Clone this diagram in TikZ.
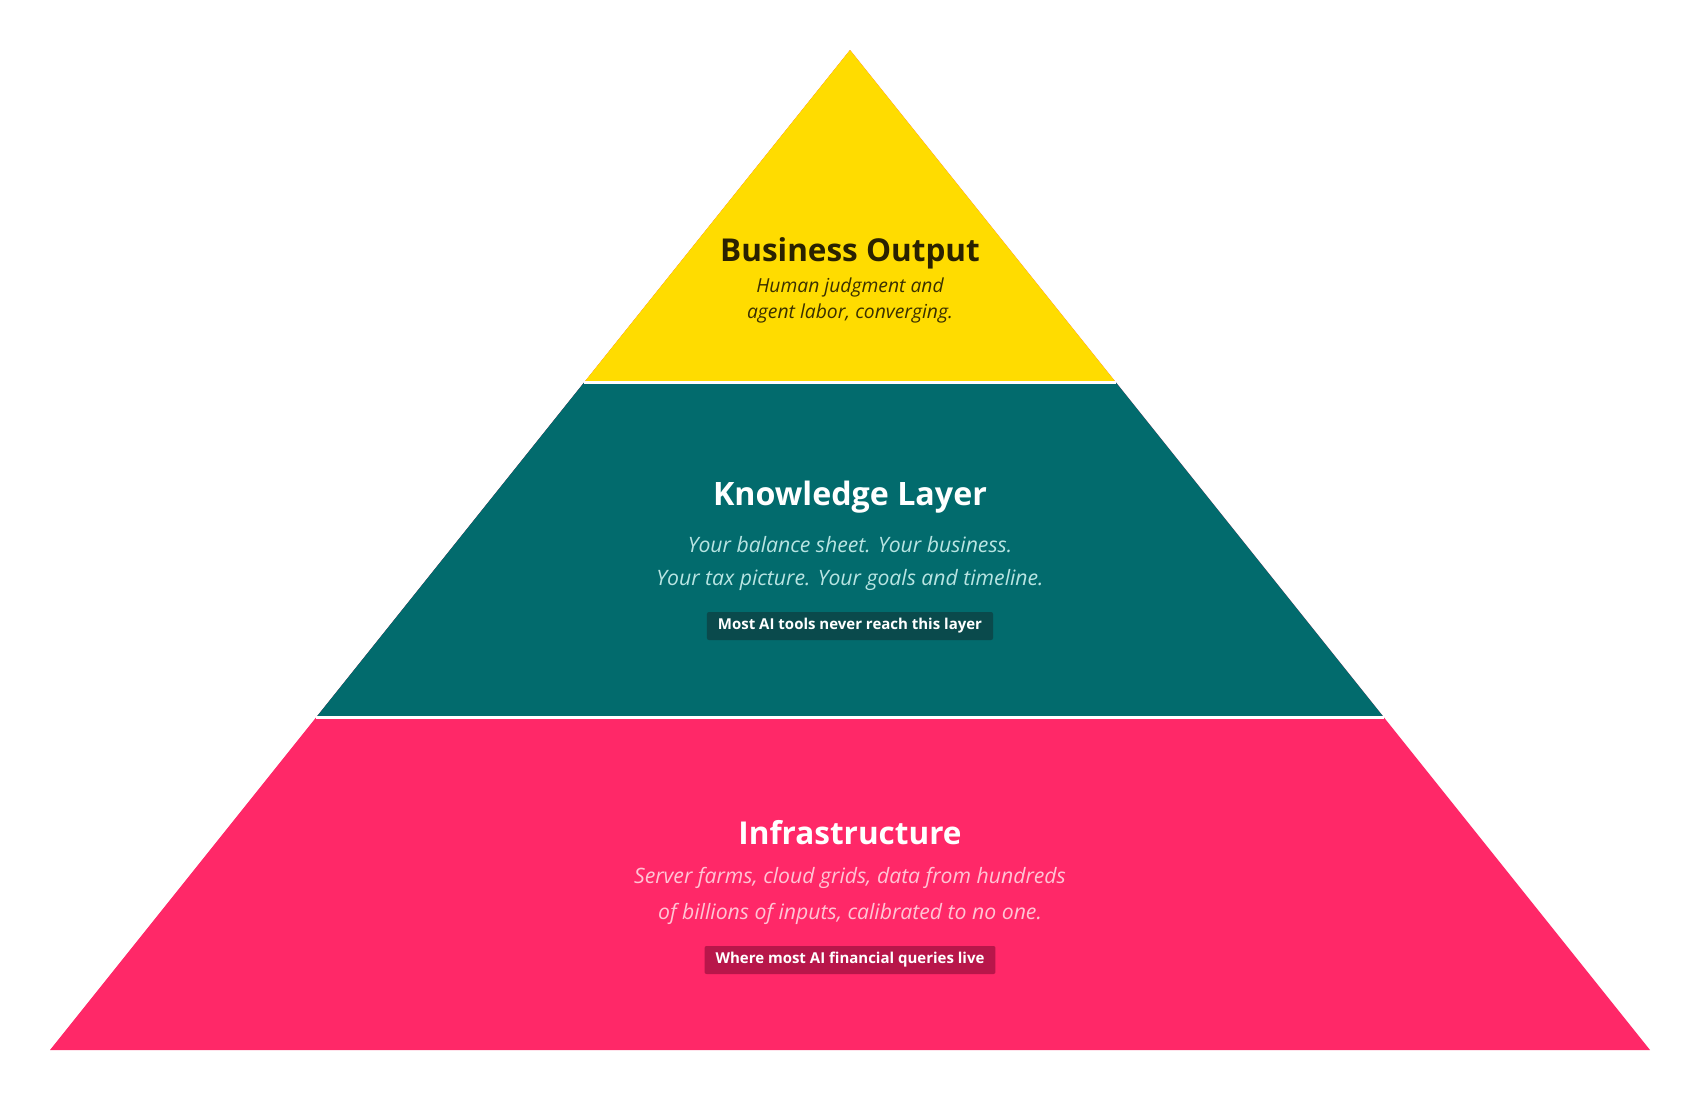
\documentclass[tikz,border=0pt]{standalone}
\usepackage{fontspec}
\setmainfont{Open Sans}
\definecolor{pyellow}{HTML}{FFDC00}
\definecolor{pteal}{HTML}{026B6D}
\definecolor{ppink}{HTML}{FF2868}
\definecolor{darktxt}{HTML}{2A2200}
\definecolor{subdark}{HTML}{3A3000}
\definecolor{tealtxt}{HTML}{B8E4E2}
\definecolor{pinktxt}{HTML}{FFC4D4}
\definecolor{tealbadge}{HTML}{0A4A4C}
\definecolor{pinkbadge}{HTML}{B8164A}
\tikzset{
  title/.style={font=\fontsize{31.5}{37}\selectfont\bfseries, inner sep=0pt, anchor=center},
  subtxt/.style={font=\fontsize{21.2}{25}\selectfont\itshape, inner sep=0pt, anchor=center},
  subsmall/.style={font=\fontsize{19.3}{23}\selectfont\itshape, inner sep=0pt, anchor=center},
  badge/.style={font=\fontsize{15}{18}\selectfont\bfseries, text=white, rounded corners=2pt, inner xsep=11pt, minimum height=28pt, anchor=center},
  divider/.style={draw=white, line width=3pt}
}
\begin{document}
\begin{tikzpicture}[x=1pt,y=-1pt]
\useasboundingbox (0,0) rectangle (1700,1100);
\coordinate (apex) at (850,50);
\coordinate (bl) at (50,1050);
\coordinate (br) at (1650,1050);
\coordinate (m1l) at (584.4,382);
\coordinate (m1r) at (1115.6,382);
\coordinate (m2l) at (316.4,717);
\coordinate (m2r) at (1383.6,717);
\fill[ppink] (bl) -- (br) -- (apex) -- cycle;
\fill[pteal] (m2l) -- (m2r) -- (m1r) -- (m1l) -- cycle;
\fill[pyellow] (m1l) -- (m1r) -- (apex) -- cycle;
\draw[divider] (m1l) -- (m1r);
\draw[divider] (m2l) -- (m2r);
% top
\node[title, text=darktxt] (t1) at (850,253) {Business Output};
\node[subsmall, text=subdark] (s1a) at (850,287) {Human judgment and};
\node[subsmall, text=subdark] (s1b) at (850,313) {agent labor, converging.};
% middle
\node[title, text=white, font=\fontsize{32.2}{38}\selectfont\bfseries] (t2) at (850,497) {Knowledge Layer};
\node[subtxt, text=tealtxt] (s2a) at (850,545) {Your balance sheet. Your business.};
\node[subtxt, text=tealtxt] (s2b) at (850,580) {Your tax picture. Your goals and timeline.};
\node[badge, fill=tealbadge] (b2) at (850,626) {Most AI tools never reach this layer};
% bottom
\node[title, text=white] (t3) at (850,833) {Infrastructure};
\node[subtxt, text=pinktxt] (s3a) at (850,878) {Server farms, cloud grids, data from hundreds};
\node[subtxt, text=pinktxt] (s3b) at (850,914) {of billions of inputs, calibrated to no one.};
\node[badge, fill=pinkbadge] (b3) at (850,960) {Where most AI financial queries live};
\end{tikzpicture}
\end{document}
